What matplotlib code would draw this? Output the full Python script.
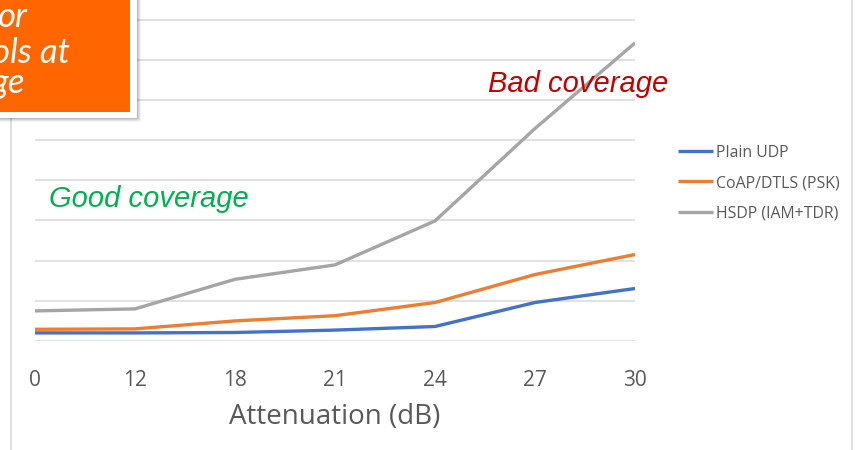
import matplotlib
matplotlib.use('Agg')
import matplotlib.pyplot as plt
from matplotlib.lines import Line2D
from matplotlib.patches import Rectangle, FancyBboxPatch

W, H = 856, 450

categories = ['0', '12', '18', '21', '24', '27', '30']
plain_udp = [0.19, 0.19, 0.20, 0.26, 0.35, 0.95, 1.30]
coap_dtls = [0.28, 0.29, 0.49, 0.62, 0.95, 1.65, 2.15]
hsdp = [0.74, 0.79, 1.53, 1.89, 2.99, 5.30, 7.44]
series_names = ['Plain UDP', 'CoAP/DTLS (PSK)', 'HSDP (IAM+TDR)']
box_lines = ['or', 'ols at', 'ge']

COLORS = ['#4472C4', '#ED7D31', '#A5A5A5']
GRID = '#D9D9D9'
TEXT = '#595959'


def fx(px):
    return px / W


def fy(py):
    # pixel rows counted from the top
    return 1 - py / H


plt.rcParams['font.family'] = ['Open Sans', 'DejaVu Sans']

fig = plt.figure(figsize=(W / 100, H / 100), dpi=100)
ax = fig.add_axes([fx(35), fy(340.5), fx(600), 340.5 / H])

x = list(range(len(categories)))
for vals, name, col in zip([plain_udp, coap_dtls, hsdp], series_names, COLORS):
    ax.plot(x, vals, color=col, lw=2.4, label=name, solid_capstyle='butt', zorder=3)

ax.set_xlim(0, len(categories) - 1)
ax.set_ylim(0, 340.5 / 40)
ax.set_yticks(range(0, 9))
ax.yaxis.grid(True, color=GRID, lw=1.1)
ax.set_axisbelow(True)
ax.tick_params(axis='y', left=False, labelleft=False)
ax.set_xticks(x)
ax.set_xticklabels(categories, fontsize=15, color=TEXT)
ax.tick_params(axis='x', length=0, pad=21)
ax.set_xlabel('Attenuation (dB)', fontsize=20, color=TEXT, labelpad=9)
for s in ax.spines.values():
    s.set_visible(False)

ax.text(0.14, 3.54, 'Good coverage', color='#00B050', fontsize=21, style='italic',
        family='Liberation Sans', ha='left', va='center')
ax.text(4.53, 6.41, 'Bad coverage', color='#C00000', fontsize=21, style='italic',
        family='Liberation Sans', ha='left', va='center')

fig.legend(loc='center left', bbox_to_anchor=(fx(678), fy(183)), frameon=False,
           fontsize=11.4, handlelength=2.2, handletextpad=0.2, labelspacing=0.9,
           borderpad=0, borderaxespad=0, labelcolor=TEXT)

# chart frame edges
fig.add_artist(Line2D([fx(11), fx(11)], [0, 1], color=GRID, lw=1.2, zorder=1))
fig.add_artist(Line2D([fx(852), fx(852)], [0, 1], color=GRID, lw=1.2, zorder=1))

# callout box in the top-left corner, with a soft shadow
for i, a in enumerate([0.05, 0.06, 0.08, 0.10]):
    d = 4 - i
    fig.add_artist(FancyBboxPatch((fx(-20), fy(118 + d)), fx(157 + d), (138 + d) / H,
                                  boxstyle='round,pad=0,rounding_size=0.004',
                                  fc='black', ec='none', alpha=a, zorder=5))
fig.add_artist(Rectangle((fx(-20), fy(118)), fx(157), 138 / H, fc='white', ec='none', zorder=6))
fig.add_artist(Rectangle((fx(-20), fy(112)), fx(150), 132 / H, fc='#FF6600', ec='none', zorder=7))
for txt, right, base in zip(box_lines, [28, 70, 25], [27, 63, 93]):
    fig.text(fx(right), fy(base), txt, color='white', fontsize=25, style='italic',
             family='Lato', ha='right', va='baseline', zorder=8)

fig.savefig('out.png', dpi=100)
